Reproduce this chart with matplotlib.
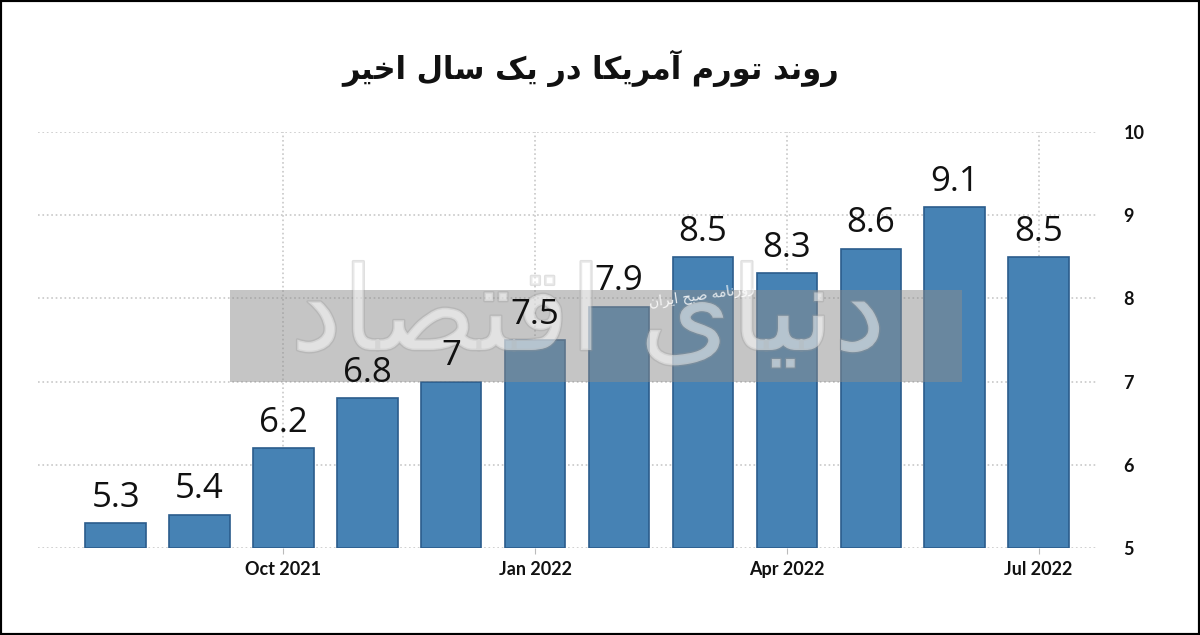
import matplotlib
matplotlib.use('Agg')
import matplotlib.pyplot as plt
import matplotlib.patheffects as pe
from matplotlib.patches import Rectangle

# US inflation, last 12 months (Aug 2021 .. Jul 2022)
months = ['Aug 2021', 'Sep 2021', 'Oct 2021', 'Nov 2021', 'Dec 2021', 'Jan 2022',
          'Feb 2022', 'Mar 2022', 'Apr 2022', 'May 2022', 'Jun 2022', 'Jul 2022']
inflation = [5.3, 5.4, 6.2, 6.8, 7.0, 7.5, 7.9, 8.5, 8.3, 8.6, 9.1, 8.5]
value_labels = ['5.3', '5.4', '6.2', '6.8', '7', '7.5', '7.9', '8.5', '8.3', '8.6', '9.1', '8.5']
tick_months = ['Oct 2021', 'Jan 2022', 'Apr 2022', 'Jul 2022']
y_ticks = [5, 6, 7, 8, 9, 10]

# persian text, already in presentation forms (matplotlib has no shaping / rtl)
title_fa = '\uFEAD\uFEED\uFEE7\uFEAA \uFE97\uFEEE\uFEAD\uFEE1 \uFE81\uFEE3\uFEAE\uFEF3\uFB91\uFE8E \uFEA9\uFEAD \uFEF3\uFB8F \uFEB3\uFE8E\uFEDD \uFE8D\uFEA7\uFEF4\uFEAE'
logo_fa = '\uFEA9\uFEE7\uFEF4\uFE8E\uFEEF \uFE8D\uFED7\uFE98\uFEBC\uFE8E\uFEA9'
sub_fa = '\uFEAD\uFEED\uFEAF\uFEE7\uFE8E\uFEE3\uFEEA \uFEBB\uFE92\uFEA2 \uFE8D\uFEF3\uFEAE\uFE8D\uFEE5'


def rtl(s):
    return s[::-1]


fig = plt.figure(figsize=(12, 6.35), dpi=100)
ax = fig.add_axes([0.032, 0.137, 0.881, 0.655])

x = list(range(len(months)))
heights = [v - 5 for v in inflation]
bars = ax.bar(x, heights, bottom=5, width=0.72, color='#4682b4',
              edgecolor='#2b5c8c', linewidth=1.2, zorder=3)
ax.bar_label(bars, labels=value_labels, padding=6, fontsize=25,
             family='Open Sans', color='#111111', zorder=5)

ax.set_xlim(-0.92, 11.68)
ax.set_ylim(5, 10)
ax.set_yticks(y_ticks)
ax.set_xticks([months.index(m) for m in tick_months])
ax.set_xticklabels(tick_months)

ax.yaxis.tick_right()
ax.tick_params(axis='y', length=0, pad=20, labelsize=13)
ax.tick_params(axis='x', length=4, color='#bbbbbb', pad=5, labelsize=13)
for lab in ax.get_xticklabels() + ax.get_yticklabels():
    lab.set_family('Lato')
    lab.set_fontweight('bold')
    lab.set_color('#111111')

ax.grid(True, color='#c8c8c8', linestyle=':', linewidth=1.2, zorder=0)
for s in ax.spines.values():
    s.set_visible(False)

# title
fig.text(0.492, 0.893, rtl(title_fa), ha='center', va='center',
         fontsize=22, fontweight='bold', family=['DejaVu Sans'], color='#111111')

# watermark band + logo: over the bars, under the value labels
ax.add_patch(Rectangle((230 / 1200, 1 - 382 / 635), 732 / 1200, 92 / 635,
                       transform=fig.transFigure, facecolor='#8c8c8c',
                       alpha=0.5, edgecolor='none', zorder=4, clip_on=False))
ax.text(0.49, 0.5, rtl(logo_fa), transform=fig.transFigure, ha='center', va='center',
        fontsize=84, family=['DejaVu Sans'], color='white', alpha=0.3, zorder=4.2,
        path_effects=[pe.withStroke(linewidth=2, foreground='#999999')])
ax.text(0.585, 0.535, rtl(sub_fa), transform=fig.transFigure, ha='center', va='center',
        fontsize=10, family=['DejaVu Sans'], color='white', alpha=0.85,
        rotation=8, zorder=4.3)

# black frame round the picture
fig.patches.append(Rectangle((0, 0), 1, 1, transform=fig.transFigure,
                             facecolor='none', edgecolor='black', linewidth=3, zorder=10))

fig.savefig('out.png', dpi=100)
